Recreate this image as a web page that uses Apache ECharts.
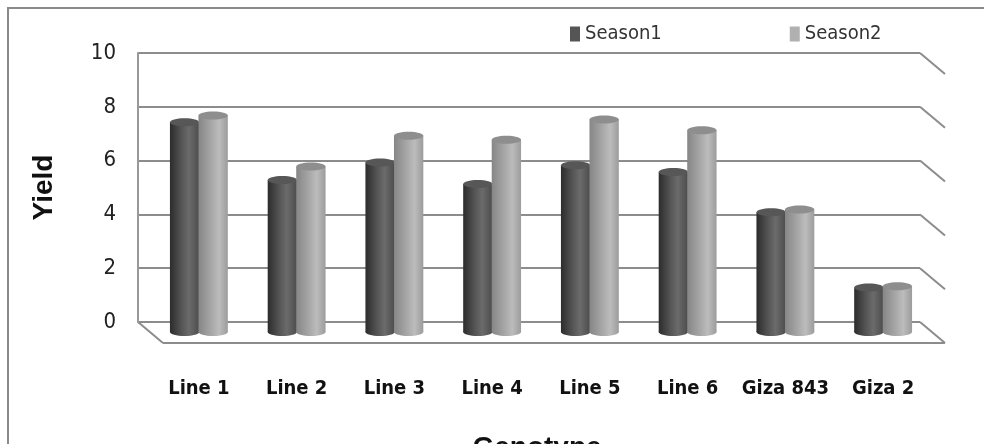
<!DOCTYPE html>
<html>
<head>
<meta charset="utf-8">
<script src="https://cdn.jsdelivr.net/npm/echarts@6/dist/echarts.min.js"></script>
<style>
  html, body { margin: 0; padding: 0; background: #fff; }
  #chart { width: 984px; height: 444px; }
</style>
</head>
<body>
<div id="chart"></div>
<script>
// data
var genotypes = ['Line 1', 'Line 2', 'Line 3', 'Line 4', 'Line 5', 'Line 6', 'Giza 843', 'Giza 2'];
var season1 = [7.8, 5.65, 6.3, 5.5, 6.2, 5.95, 4.45, 1.65];
var season2 = [8.05, 6.15, 7.3, 7.15, 7.9, 7.5, 4.55, 1.7];
var yTicks = [0, 2, 4, 6, 8, 10];

// 3d look: bars sit half way into the floor depth
var DEPTH_X = 25, DEPTH_Y = 21;
var MID_X = 12, MID_Y = 10;
var gridBox = { left: 138, top: 53, right: 64, bottom: 122, containLabel: false, outerBoundsMode: 'none' };

var narrow = "'Liberation Sans Narrow', 'DejaVu Sans Condensed', 'Liberation Sans', sans-serif";

var chart = echarts.init(document.getElementById('chart'));

function cylinder(colors, topColor, side) {
    return function(params, api) {
        var i = api.value(0), v = api.value(1);
        var top = api.coord([i, v]);
        var base = api.coord([i, 0]);
        var band = api.size([1, 0])[0];
        var w = band * 0.3;
        var cx = top[0] + MID_X + side * band * 0.146;
        var ty = top[1] + MID_Y, by = base[1] + MID_Y;
        var rx = w / 2, ry = 4;
        var grad = new echarts.graphic.LinearGradient(0, 0, 1, 0, colors);
        return {
            type: 'group',
            children: [
                { type: 'ellipse', shape: { cx: cx, cy: by, rx: rx, ry: ry }, style: { fill: grad } },
                { type: 'rect', shape: { x: cx - rx, y: ty, width: w, height: by - ty }, style: { fill: grad } },
                { type: 'ellipse', shape: { cx: cx, cy: ty, rx: rx, ry: ry }, style: { fill: topColor } }
            ]
        };
    };
}

var s1Data = season1.map(function(v, i) { return [i, v]; });
var s2Data = season2.map(function(v, i) { return [i, v]; });

chart.setOption({
    backgroundColor: '#fff',
    animation: false,
    grid: gridBox,
    legend: {
        left: 565,
        top: 19,
        itemWidth: 10,
        itemHeight: 15,
        itemGap: 128,
        icon: 'rect',
        textStyle: { fontFamily: narrow, fontSize: 20, color: '#333' },
        data: ['Season1', 'Season2']
    },
    xAxis: {
        type: 'category',
        data: genotypes,
        axisLine: { show: false },
        axisTick: { show: false },
        axisLabel: {
            interval: 0,
            margin: 57,
            padding: [0, 0, 0, 24],
            fontFamily: narrow,
            fontWeight: 'bold',
            fontSize: 20,
            color: '#111'
        },
        name: 'Genotype',
        nameLocation: 'middle',
        nameGap: 112,
        nameTextStyle: { fontFamily: "'Liberation Sans', sans-serif", fontWeight: 'bold', fontSize: 28, color: '#111', padding: [0, 0, 0, 16] }
    },
    yAxis: {
        type: 'value',
        min: yTicks[0],
        max: yTicks[yTicks.length - 1],
        interval: 2,
        axisLine: { show: true, lineStyle: { color: '#999', width: 2 } },
        axisTick: { show: false },
        splitLine: { lineStyle: { color: '#8c8c8c', width: 2 } },
        axisLabel: {
            margin: 22,
            fontFamily: narrow,
            fontSize: 22,
            color: '#222'
        },
        name: 'Yield',
        nameLocation: 'middle',
        nameRotate: 90,
        nameGap: 80,
        nameTextStyle: { fontFamily: "'Liberation Sans', sans-serif", fontWeight: 'bold', fontSize: 28, color: '#111' }
    },
    series: [{
        name: 'Season1',
        type: 'custom',
        clip: false,
        itemStyle: { color: '#555' },
        renderItem: cylinder([
            { offset: 0, color: '#2c2c2c' },
            { offset: 0.4, color: '#555' },
            { offset: 0.65, color: '#6b6b6b' },
            { offset: 1, color: '#4c4c4c' }
        ], '#575757', -1),
        encode: { x: 0, y: 1 },
        data: s1Data
    }, {
        name: 'Season2',
        type: 'custom',
        clip: false,
        itemStyle: { color: '#b0b0b0' },
        renderItem: cylinder([
            { offset: 0, color: '#868686' },
            { offset: 0.45, color: '#a8a8a8' },
            { offset: 0.7, color: '#bcbcbc' },
            { offset: 1, color: '#9c9c9c' }
        ], '#8e8e8e', 1),
        encode: { x: 0, y: 1 },
        data: s2Data
    }]
});

// walls: diagonals from each gridline and the floor edge
var x0 = gridBox.left, x1 = 984 - gridBox.right;
var lines = [];
var lineStyle = { stroke: '#8c8c8c', lineWidth: 2 };
yTicks.forEach(function(t) {
    var y = chart.convertToPixel({ yAxisIndex: 0 }, t);
    lines.push({ type: 'line', shape: { x1: x1, y1: y, x2: x1 + DEPTH_X, y2: y + DEPTH_Y }, style: lineStyle, silent: true });
});
var y0 = chart.convertToPixel({ yAxisIndex: 0 }, 0);
lines.push({ type: 'line', shape: { x1: x0, y1: y0, x2: x0 + DEPTH_X, y2: y0 + DEPTH_Y }, style: lineStyle, silent: true });
lines.push({ type: 'line', shape: { x1: x0 + DEPTH_X, y1: y0 + DEPTH_Y, x2: x1 + DEPTH_X, y2: y0 + DEPTH_Y }, style: lineStyle, silent: true });
// outer frame
lines.push({ type: 'rect', shape: { x: 8, y: 8, width: 1000, height: 460 }, style: { stroke: '#8a8a8a', lineWidth: 2, fill: null }, silent: true, z: -1 });

chart.setOption({ graphic: lines });
</script>
</body>
</html>
